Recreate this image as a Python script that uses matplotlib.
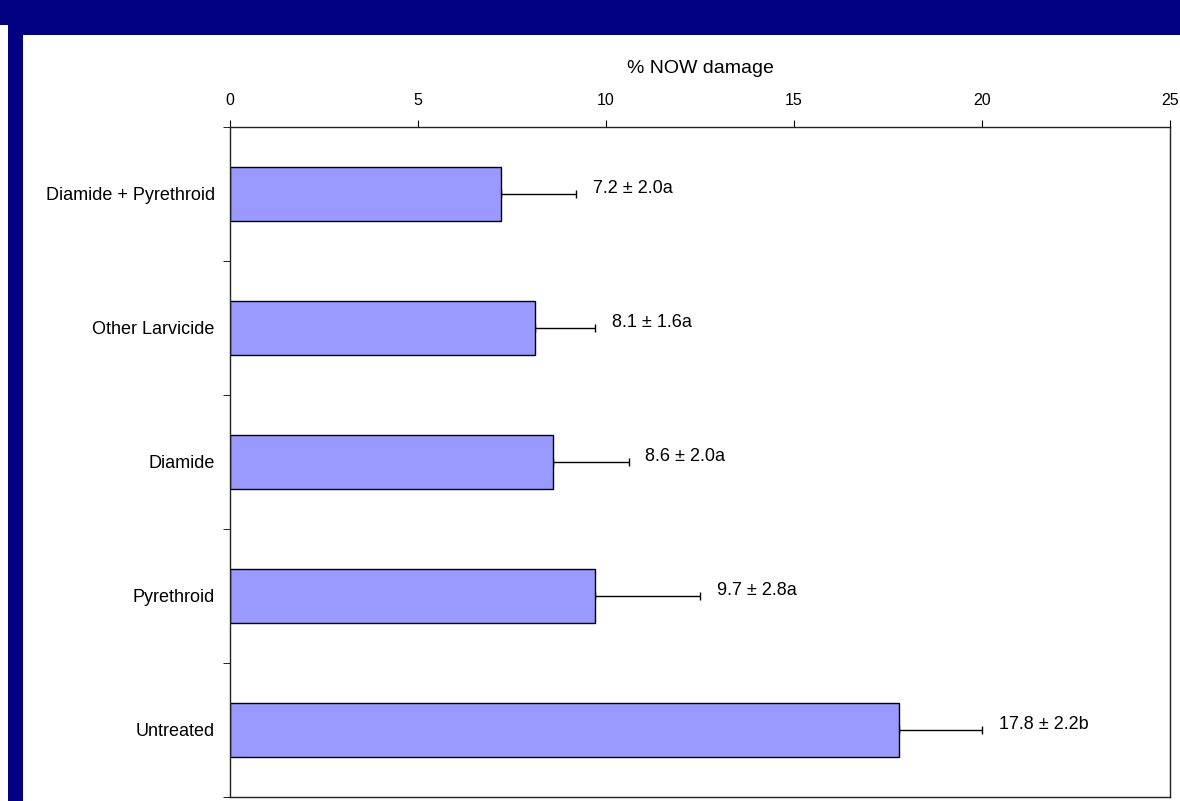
# Horizontal bar chart of NOW damage by treatment, with SE bars and letter labels
import matplotlib.pyplot as plt
from matplotlib.patches import Rectangle
import numpy as np

plt.rcParams['font.family'] = ['Liberation Sans', 'DejaVu Sans']

treatments = ['Diamide + Pyrethroid', 'Other Larvicide', 'Diamide', 'Pyrethroid', 'Untreated']
damage = [7.2, 8.1, 8.6, 9.7, 17.8]
se = [2.0, 1.6, 2.0, 2.8, 2.2]
letters = ['a', 'a', 'a', 'a', 'b']
x_ticks = [0, 5, 10, 15, 20, 25]

W, H = 1180, 801
fig = plt.figure(figsize=(W / 100, H / 100), dpi=100)
fig.patch.set_facecolor('white')

# navy frame along the top and left edge
navy = '#000080'
fig.patches.append(Rectangle((0, 1 - 25 / H), 1, 25 / H, transform=fig.transFigure,
                             facecolor=navy, edgecolor='none', zorder=0))
fig.patches.append(Rectangle((8 / W, 1 - 35 / H), 1 - 8 / W, 35 / H, transform=fig.transFigure,
                             facecolor=navy, edgecolor='none', zorder=0))
fig.patches.append(Rectangle((8 / W, 0), 15 / W, 1, transform=fig.transFigure,
                             facecolor=navy, edgecolor='none', zorder=0))

ax = fig.add_axes([230 / W, 4 / H, 940 / W, 670 / H])

y = np.arange(len(treatments))
ax.barh(y, damage, height=0.4, color='#9999FF', edgecolor='black', linewidth=1, zorder=2)
ax.errorbar(damage, y, xerr=[np.zeros(len(se)), se], fmt='none', ecolor='black',
            elinewidth=1, capsize=3, capthick=1, zorder=1)

for yi, v, e, l in zip(y, damage, se, letters):
    ax.text(v + e + 0.45, yi - 0.04, f'{v:.1f} ± {e:.1f}{l}', ha='left', va='center', fontsize=13)

ax.set_xlim(0, 25)
ax.set_ylim(len(treatments) - 0.5, -0.5)
ax.xaxis.tick_top()
ax.xaxis.set_label_position('top')
ax.set_xticks(x_ticks)
ax.set_xticklabels([str(t) for t in x_ticks], fontsize=11.5)
ax.tick_params(axis='x', direction='out', length=5, pad=9)
ax.set_xlabel('% NOW damage', fontsize=14, labelpad=14)

ax.set_yticks(y)
ax.set_yticklabels(treatments, fontsize=13)
ax.set_yticks(np.arange(len(treatments) + 1) - 0.5, minor=True)
ax.tick_params(axis='y', which='major', length=0, pad=11)
ax.tick_params(axis='y', which='minor', direction='out', length=5)

for s in ax.spines.values():
    s.set_color('#222222')
    s.set_linewidth(1)

fig.savefig('out.png', dpi=100, facecolor=fig.get_facecolor())
